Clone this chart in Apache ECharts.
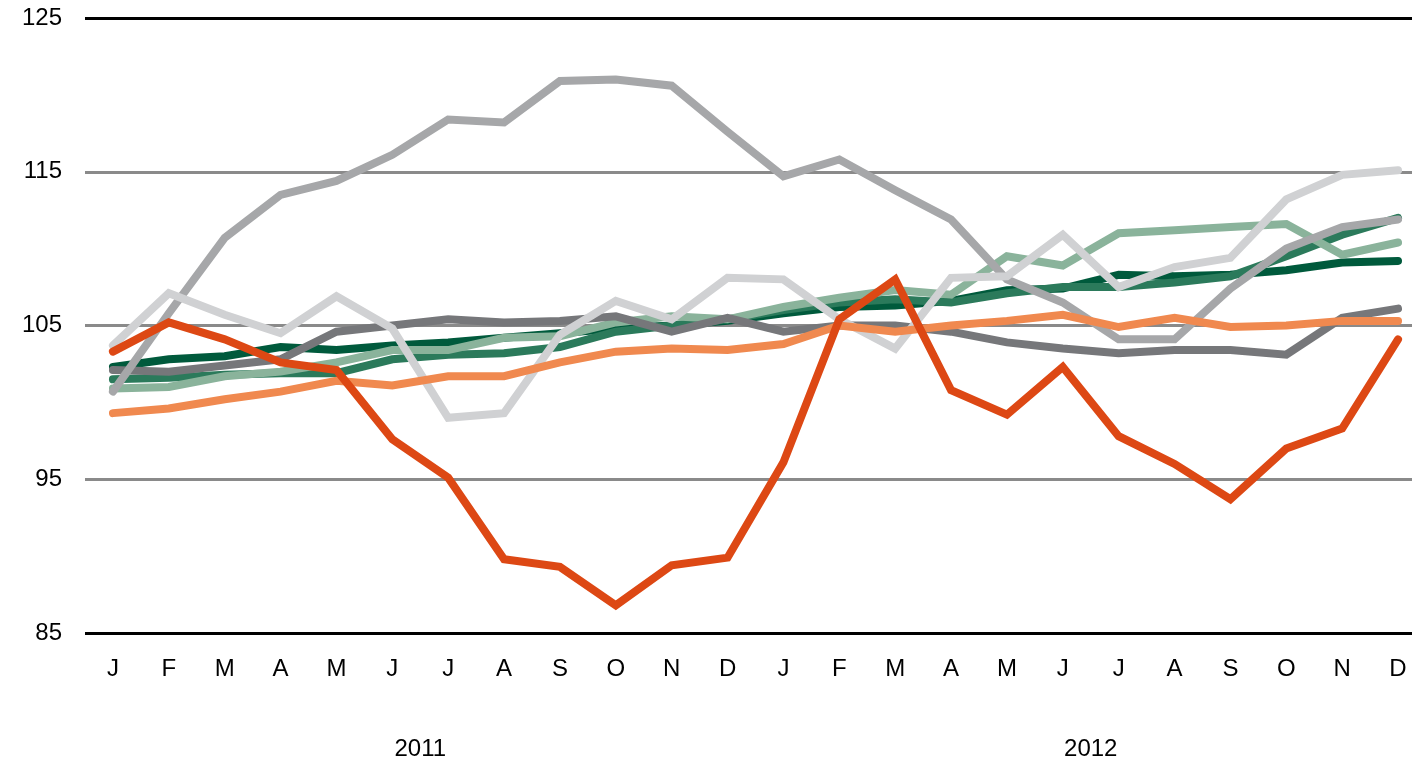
<!DOCTYPE html>
<html>
<head>
<meta charset="utf-8">
<script src="https://cdn.jsdelivr.net/npm/echarts@6/dist/echarts.min.js"></script>
<style>
  html, body { margin: 0; padding: 0; background: #fff; }
  #chart { width: 1412px; height: 764px; }
</style>
</head>
<body>
<div id="chart"></div>
<script>
// month labels, two years
const months = ['J','F','M','A','M','J','J','A','S','O','N','D',
                'J','F','M','A','M','J','J','A','S','O','N','D'];
const years = ['2011', '2012'];

const darkGreen = [102.3,102.8,103.0,103.6,103.4,103.7,103.9,104.2,104.5,104.8,105.0,105.3,
                   105.8,106.2,106.3,106.6,107.3,107.4,108.3,108.2,108.3,108.6,109.1,109.2];
const midGreen = [101.5,101.6,101.8,101.9,101.9,102.8,103.1,103.2,103.6,104.6,105.0,105.4,
                  106.0,106.5,106.7,106.5,107.1,107.5,107.5,107.8,108.2,109.5,110.9,112.0];
const lightGreen = [100.9,101.0,101.7,102.0,102.6,103.4,103.4,104.2,104.3,105.2,105.6,105.4,
                    106.2,106.8,107.3,107.0,109.5,108.9,111.0,111.2,111.4,111.6,109.6,110.4];
const darkGray = [102.1,102.0,102.4,102.8,104.6,105.0,105.4,105.2,105.3,105.6,104.6,105.5,
                  104.6,105.0,105.0,104.6,103.9,103.5,103.2,103.4,103.4,103.1,105.5,106.1];
const midGray = [100.7,105.8,110.7,113.5,114.4,116.1,118.4,118.2,120.9,121.0,120.6,117.6,
                 114.7,115.8,113.8,111.9,108.0,106.5,104.1,104.1,107.4,110.0,111.4,111.9];
const lightGray = [103.7,107.1,105.7,104.5,106.9,104.8,99.0,99.3,104.4,106.6,105.4,108.1,
                   108.0,105.4,103.5,108.1,108.2,110.9,107.5,108.8,109.4,113.2,114.8,115.1];
const lightOrange = [99.3,99.6,100.2,100.7,101.4,101.1,101.7,101.7,102.6,103.3,103.5,103.4,
                     103.8,105.0,104.6,105.0,105.3,105.7,104.9,105.5,104.9,105.0,105.3,105.3];
const redOrange = [103.3,105.2,104.1,102.6,102.1,97.6,95.1,89.8,89.3,86.8,89.4,89.9,
                   96.1,105.4,108.0,100.8,99.2,102.3,97.8,96.0,93.7,97.0,98.3,104.1];

const yTicks = [85, 95, 105, 115, 125];

// month index positions; the original leaves a wider gap on the left than the right
const monthPos = months.map((m, i) => i);
const yearPos = [5.5, 17.5];

function line(name, data, color) {
  return {
    name: name,
    type: 'line',
    data: data.map((v, i) => [monthPos[i], v]),
    symbol: 'none',
    lineStyle: { color: color, width: 8, cap: 'round', join: 'miter' },
    itemStyle: { color: color }
  };
}

const labelFont = {
  color: '#000',
  fontSize: 24,
  fontFamily: 'Liberation Sans, Arial, sans-serif'
};

let chart = echarts.init(document.getElementById('chart'));
chart.setOption({
  animation: false,
  grid: { left: 85, right: 0, top: 18, bottom: 131 },
  xAxis: [
    {
      type: 'value',
      min: -0.5,
      max: 23.25,
      axisLine: { show: false },
      axisTick: { show: false },
      splitLine: { show: false },
      axisLabel: Object.assign({
        margin: 24,
        customValues: monthPos,
        formatter: v => months[Math.round(v)]
      }, labelFont)
    },
    {
      type: 'value',
      min: -0.5,
      max: 23.25,
      position: 'bottom',
      offset: 80,
      axisLine: { show: false },
      axisTick: { show: false },
      splitLine: { show: false },
      axisLabel: Object.assign({
        margin: 24,
        customValues: yearPos,
        formatter: v => years[Math.round((v - 5.5) / 12)]
      }, labelFont)
    }
  ],
  yAxis: {
    type: 'value',
    min: yTicks[0],
    max: yTicks[yTicks.length - 1],
    interval: 10,
    axisLine: { show: false },
    axisTick: { show: false },
    axisLabel: Object.assign({ margin: 23 }, labelFont),
    splitLine: {
      show: true,
      lineStyle: { color: ['#000', '#8a8a8a', '#8a8a8a', '#8a8a8a', '#000'], width: 3 }
    }
  },
  series: [
    line('s1', darkGreen, '#005a3c'),
    line('s2', midGreen, '#2b7a5b'),
    line('s3', lightGreen, '#8ab39b'),
    line('s4', darkGray, '#76777a'),
    line('s5', midGray, '#a6a7a9'),
    line('s6', lightGray, '#d0d1d3'),
    line('s7', lightOrange, '#f0894f'),
    line('s8', redOrange, '#dd4814')
  ]
});
</script>
</body>
</html>
